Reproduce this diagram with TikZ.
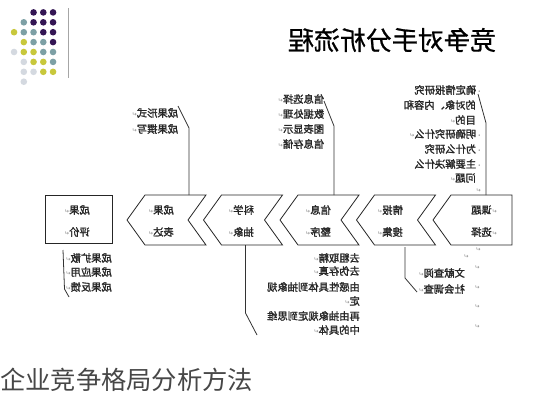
\documentclass[tikz,border=0pt]{standalone}
\usepackage{fontspec}
\newfontfamily\cjk{Noto Sans CJK SC}
\newfontfamily\cjkb[FakeBold=1.6]{Noto Sans CJK SC}
\newfontfamily\cjkt[FakeBold=0.8]{Noto Sans CJK SC}
\newfontfamily\dvs{DejaVu Sans}
\newcommand\pmark{{\dvs\fontsize{6}{6}\selectfont\color{black!45}↵}}
\newcommand\pbul{{\dvs\fontsize{5}{5}\selectfont\color{black!45}•}\,}
\definecolor{dP}{RGB}{52,22,84}
\definecolor{dT}{RGB}{125,160,165}
\definecolor{dY}{RGB}{200,200,60}
\definecolor{dG}{RGB}{212,217,224}
\tikzset{
  mir/.style={xscale=-1, inner sep=0pt, font=\cjkb\fontsize{10.3}{12}\selectfont, text=black!85},
  mr/.style={mir, anchor=west},
  shp/.style={draw=black!85, line width=0.8pt, fill=white, line join=miter},
  lead/.style={draw=black!80, line width=0.8pt},
}
\begin{document}
\begin{tikzpicture}[x=1pt,y=-1pt]
\useasboundingbox (0,0) rectangle (533,400);
\fill[white] (0,0) rectangle (533,400);
% decorative dots
\foreach \c/\r/\col in {3/1/dP,4/1/dP,5/1/dP, 2/2/dT,3/2/dP,4/2/dP,5/2/dP,
  1/3/dY,2/3/dT,3/3/dT,4/3/dP,5/3/dP, 2/4/dY,3/4/dT,4/4/dT,5/4/dP,
  1/5/dG,2/5/dY,3/5/dY,4/5/dT,5/5/dT, 2/6/dG,3/6/dY,4/6/dY,5/6/dT,
  2/7/dG,3/7/dG,4/7/dY,5/7/dY, 2/8/dG}
  \fill[\col] ({4.3+9.75*\c},{2.5+9.9*\r}) circle[radius=3.3pt];
\draw[black!35, line width=1pt] (68,8) -- (68,78);
% title (mirrored)
\node[mir, font=\cjkt\fontsize{26}{26}\selectfont, text=black] (title) at (392,40) {竞争对手分析流程};
% shapes
\draw[shp] (45,195) rectangle (112,243);
\foreach \L in {127,203.5,280,356.5}
  \draw[shp] (\L,220) -- ({\L+18},195) -- ({\L+79},195) -- ({\L+61},220) -- ({\L+79},245) -- ({\L+18},245) -- cycle;
\draw[shp] (433,220) -- (451,195) -- (512,195) -- (512,245) -- (451,245) -- cycle;
% box texts
\node[mir] (b1a) at (77,210) {成果\pmark};
\node[mir] (b1b) at (77,232) {评价\pmark};
\node[mir] (b2a) at (161,210) {成果\pmark};
\node[mir] (b2b) at (161,232) {表达\pmark};
\node[mir] (b3a) at (241,210) {科学\pmark};
\node[mir] (b3b) at (241,232) {抽象\pmark};
\node[mir] (b4a) at (318,210) {信息\pmark};
\node[mir] (b4b) at (318,232) {整序\pmark};
\node[mir] (b5a) at (390,210) {情报\pmark};
\node[mir] (b5b) at (390,232) {搜集\pmark};
\node[mir] (b6a) at (484,210) {\pmark 课题};
\node[mir] (b6b) at (484,232) {\pmark 选择};
% connector coordinates
\coordinate (c2t) at (189,195);
\coordinate (c4t) at (334,195);
\coordinate (c6t) at (486,195);
\coordinate (c3b) at (245.5,245);
\coordinate (c5b) at (405,247);
% annotation: 成果表达
\node[mir] (a2a) at (155,113) {成果形式\pmark};
\node[mir] (a2b) at (155,129) {成果撰写\pmark};
\coordinate (a2s) at (178,106);
\coordinate (a2k) at (189,128);
\draw[lead] (a2s) -- (a2k) -- (c2t);
% annotation: 信息整序
\node[mir] (a4a) at (301,99) {信息选择\pmark};
\node[mir] (a4b) at (301,114) {数据处理\pmark};
\node[mir] (a4c) at (301,129) {图表显示\pmark};
\node[mir] (a4d) at (301,144) {信息存储\pmark};
\coordinate (a4s) at (324,101);
\coordinate (a4k) at (334,126);
\draw[lead] (a4s) -- (a4k) -- (c4t);
% annotation: 课题选择
\node[mr] (a6a) at (481,90) {\pbul 确定情报研究};
\node[mr] (a6b) at (476,105) {的对象、内容和};
\node[mr] (a6c) at (476,120) {目的\pmark};
\node[mr] (a6d) at (481,134) {\pbul 明确研究什么\pmark};
\node[mr] (a6e) at (481,149) {\pbul 为什么研究};
\node[mr] (a6f) at (481,164) {\pbul 主要解决什么};
\node[mr] (a6g) at (476,178) {问题\pmark};
\node[mr] (a6h) at (481,191) {\pmark};
\coordinate (a6s) at (478,94);
\coordinate (a6k) at (486,123);
\draw[lead] (a6s) -- (a6k) -- (c6t);
% annotation: 成果评价
\node[mr] (a1a) at (112,258) {成果扩散\pmark};
\node[mr] (a1b) at (112,272) {成果应用\pmark};
\node[mr] (a1c) at (112,287) {成果反馈\pmark};
\coordinate (a1s) at (63,250);
\coordinate (a1k) at (64.5,289);
\coordinate (a1e) at (69,297);
\draw[lead] (a1s) -- (a1k) -- (a1e);
% annotation: 科学抽象
\node[mr] (a3a) at (360,258) {去粗取精\pmark};
\node[mr] (a3b) at (360,271) {去伪存真\pmark};
\node[mr] (a3c) at (360,287) {由感性具体到抽象规};
\node[mr] (a3d) at (360,301) {定\pmark};
\node[mr] (a3e) at (360,316) {再由抽象规定到思维};
\node[mr] (a3f) at (360,330) {中的具体\pmark};
\coordinate (a3k) at (245.5,313);
\coordinate (a3z) at (257,335);
\draw[lead] (c3b) -- (a3k) -- (a3z);
% annotation: 情报搜集
\node[mr] (a5a) at (465,273) {文献查阅\pmark};
\node[mr] (a5b) at (465,289) {社会调查\pmark};
\coordinate (a5k) at (405,278);
\coordinate (a5e) at (417,292);
\draw[lead] (c5b) -- (a5k) -- (a5e);
% loose paragraph marks under 课题选择
\node[mir] (m1) at (478,250) {\pmark};
\node[mir] (m2) at (466,257) {\pmark};
\node[mir] (m3) at (477,268) {\pmark};
\node[mir] (m4) at (477,288) {\pmark};
\node[mir] (m5) at (477,307) {\pmark};
\node[mir] (m6) at (477,327) {\pmark};
% caption
\node[anchor=west, inner sep=0pt, font=\cjk\fontsize{25.3}{26}\selectfont, text=black!72] (cap) at (0,380) {企业竞争格局分析方法};
\end{tikzpicture}
\end{document}
